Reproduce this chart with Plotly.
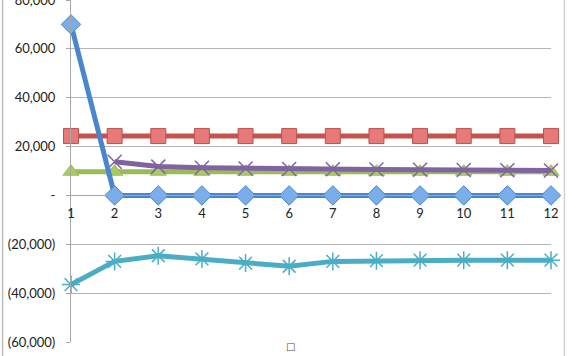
import plotly.graph_objects as go

periods = list(range(1, 13))
series_blue = [70000, 0, 0, 0, 0, 0, 0, 0, 0, 0, 0, 0]
series_red = [24300] * 12
series_green = [9700] * 12
series_purple = [None, 13800, 11800, 11300, 11000, 10800, 10700, 10600, 10500, 10400, 10300, 10200]
series_cyan = [-36500, -27000, -24700, -26000, -27700, -29000, -27000, -26700, -26500, -26500, -26500, -26500]

y_tickvals = [80000, 60000, 40000, 20000, 0, -20000, -40000, -60000]
y_ticktext = ["80,000", "60,000", "40,000", "20,000", "-", "(20,000)", "(40,000)", "(60,000)"]
y_min, y_max = -60000, 80000

fig = go.Figure()

fig.add_trace(go.Scatter(x=periods, y=series_red, mode="lines+markers",
                         line=dict(color="#C8504D", width=5),
                         marker=dict(symbol="square", size=15, color="#E57A78",
                                     line=dict(color="#C0504D", width=1)),
                         cliponaxis=False, showlegend=False))
fig.add_trace(go.Scatter(x=periods, y=series_green, mode="lines+markers",
                         line=dict(color="#9BBB59", width=5),
                         marker=dict(symbol="triangle-up", size=14, color="#A9CC5E",
                                     line=dict(color="#9BBB59", width=1)),
                         cliponaxis=False, showlegend=False))
fig.add_trace(go.Scatter(x=periods, y=series_purple, mode="lines+markers",
                         line=dict(color="#8064A2", width=5),
                         marker=dict(symbol="x-thin-open", size=14,
                                     line=dict(color="#8F76B4", width=1.5)),
                         cliponaxis=False, showlegend=False))
fig.add_trace(go.Scatter(x=periods, y=series_cyan, mode="lines+markers",
                         line=dict(color="#4BACC6", width=5),
                         marker=dict(symbol="asterisk-open", size=15,
                                     line=dict(color="#6CC3DA", width=1.5)),
                         cliponaxis=False, showlegend=False))
fig.add_trace(go.Scatter(x=periods, y=series_blue, mode="lines+markers",
                         line=dict(color="#4A86CF", width=5),
                         marker=dict(symbol="diamond", size=15, color="#7AAEEA",
                                     line=dict(color="#4A86CF", width=1)),
                         cliponaxis=False, showlegend=False))

zero_pos = (0 - y_min) / (y_max - y_min)

fig.update_layout(
    width=576, height=356,
    margin=dict(l=71, r=25, t=0, b=14),
    paper_bgcolor="white", plot_bgcolor="white",
    font=dict(family="Lato, 'Liberation Sans', sans-serif", size=13, color="#222222"),
    xaxis=dict(range=[1, 12], tickvals=periods, ticktext=[str(p) for p in periods],
               showgrid=False, zeroline=False, showline=True, linecolor="#A6A6A6",
               linewidth=1.2, anchor="free", position=zero_pos, ticks="",
               ticklabelstandoff=6, automargin=False),
    yaxis=dict(range=[y_min, y_max + 1], tickvals=y_tickvals, ticktext=y_ticktext,
               showgrid=True, gridcolor="#B5B5B5", gridwidth=1.2,
               zeroline=False, showline=True, linecolor="#A6A6A6", linewidth=1.2,
               ticks="outside", ticklen=4, tickcolor="#A6A6A6",
               ticklabelstandoff=8, automargin=False, ticklabeloverflow="allow"),
    shapes=[
        dict(type="line", xref="paper", yref="paper", x0=-0.1425, x1=-0.1425, y0=-0.2, y1=1.1,
             line=dict(color="#BDBDBD", width=1.5)),
        dict(type="line", xref="paper", yref="paper", x0=1.028, x1=1.028, y0=-0.2, y1=1.1,
             line=dict(color="#D0D0D0", width=1.5)),
    ],
    annotations=[dict(text="□", xref="paper", yref="paper", x=0.457, y=-0.036,
                      yanchor="bottom", showarrow=False,
                      font=dict(family="DejaVu Sans", size=10, color="#444444"))],
)

fig.write_html("out.html", config={"displayModeBar": False},
               post_script="document.body.style.margin='0';document.body.style.overflow='hidden';")
